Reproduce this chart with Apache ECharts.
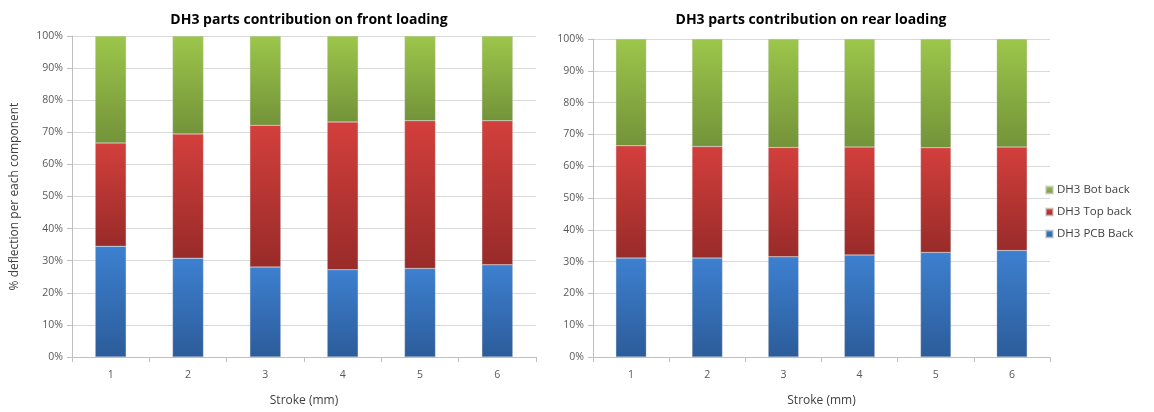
<!DOCTYPE html>
<html>
<head>
<meta charset="utf-8">
<script src="https://cdn.jsdelivr.net/npm/echarts@6/dist/echarts.min.js"></script>
<style>
  html, body { margin: 0; padding: 0; background: #ffffff; }
  #chart { width: 1154px; height: 412px; }
</style>
</head>
<body>
<div id="chart"></div>
<script>
// Stroke positions (mm)
const strokes = ['1', '2', '3', '4', '5', '6'];

// Front loading: share of deflection per component (%)
const frontPcb = [34.5, 30.8, 28.0, 27.2, 27.6, 28.7];
const frontTop = [32.2, 38.7, 44.2, 46.0, 46.0, 44.9];
const frontBot = [33.3, 30.5, 27.8, 26.8, 26.4, 26.4];

// Rear loading: share of deflection per component (%)
const rearPcb = [31.1, 31.1, 31.5, 32.1, 32.9, 33.5];
const rearTop = [35.3, 35.1, 34.4, 33.9, 32.9, 32.5];
const rearBot = [33.6, 33.8, 34.1, 34.0, 34.2, 34.0];

const seriesNames = ['DH3 PCB Back', 'DH3 Top back', 'DH3 Bot back'];
const chartTitles = ['DH3 parts contribution on front loading', 'DH3 parts contribution on rear loading'];
const xAxisName = 'Stroke (mm)';
const yAxisName = '% deflection per each component';

const FONT = '"Open Sans", "Noto Sans", sans-serif';

function grad(top, bottom) {
  return new echarts.graphic.LinearGradient(0, 0, 0, 1, [
    { offset: 0, color: top },
    { offset: 1, color: bottom }
  ]);
}
const fills = [
  grad('#3d80d0', '#2c5c9a'),
  grad('#d33f3c', '#982b29'),
  grad('#9cc64b', '#739339')
];
const legendColors = ['#3d7ccb', '#c0393a', '#93bb45'];

function makeSeries(idx, data) {
  return data.map((vals, i) => ({
    name: seriesNames[i],
    type: 'bar',
    stack: 'total' + idx,
    xAxisIndex: idx,
    yAxisIndex: idx,
    barWidth: '40%',
    color: legendColors[i],
    itemStyle: { color: fills[i], borderColor: 'rgba(200,200,200,0.6)', borderWidth: 0.5 },
    emphasis: { disabled: true },
    data: vals
  }));
}

const axisLabelStyle = { color: '#595959', fontSize: 10.5, fontFamily: FONT };
const gridLine = { show: true, lineStyle: { color: '#d9d9d9', width: 1 } };
const axisLn = { show: true, lineStyle: { color: '#bfbfbf', width: 1 } };

function xAxis(idx) {
  return {
    type: 'category',
    gridIndex: idx,
    data: strokes,
    name: xAxisName,
    nameLocation: 'middle',
    nameGap: 38,
    nameTextStyle: { color: '#404040', fontSize: 12, fontFamily: FONT },
    axisLine: axisLn,
    axisTick: { show: true, length: 5, lineStyle: { color: '#bfbfbf' } },
    axisLabel: Object.assign({ margin: 13 }, axisLabelStyle),
    splitLine: { show: false }
  };
}
function yAxis(idx, withName) {
  const ax = {
    type: 'value',
    gridIndex: idx,
    min: 0,
    max: 100,
    interval: 10,
    axisLine: axisLn,
    axisTick: { show: true, length: 5, lineStyle: { color: '#bfbfbf' } },
    axisLabel: Object.assign({ margin: 9, formatter: '{value}%' }, axisLabelStyle),
    splitLine: gridLine
  };
  if (withName) {
    Object.assign(ax, {
      name: yAxisName,
      nameLocation: 'middle',
      nameGap: 51,
      nameTextStyle: { color: '#404040', fontSize: 12, fontFamily: FONT }
    });
  }
  return ax;
}

const chart = echarts.init(document.getElementById('chart'), null, { renderer: 'canvas' });
chart.setOption({
  animation: false,
  backgroundColor: '#ffffff',
  title: [
    { text: chartTitles[0], left: 304, top: 8, textAlign: 'center',
      textStyle: { fontSize: 14, fontWeight: 'bold', color: '#000000', fontFamily: FONT } },
    { text: chartTitles[1], left: 806, top: 8, textAlign: 'center',
      textStyle: { fontSize: 14, fontWeight: 'bold', color: '#000000', fontFamily: FONT } }
  ],
  legend: {
    orient: 'vertical',
    left: 1040,
    top: 178,
    itemWidth: 7,
    itemHeight: 7,
    itemGap: 8,
    icon: 'rect',
    data: ['DH3 Bot back', 'DH3 Top back', 'DH3 PCB Back'],
    textStyle: { color: '#404040', fontSize: 11.5, fontFamily: FONT, padding: [0, 0, 0, -1], lineHeight: 14 }
  },
  grid: [
    { left: 72, right: 1154 - 536, top: 36, bottom: 412 - 364 },
    { left: 593, right: 1154 - 1050, top: 39, bottom: 412 - 361.7 }
  ],
  xAxis: [xAxis(0), xAxis(1)],
  yAxis: [yAxis(0, true), yAxis(1, false)],
  series: [
    ...makeSeries(0, [frontPcb, frontTop, frontBot]),
    ...makeSeries(1, [rearPcb, rearTop, rearBot])
  ]
});
</script>
</body>
</html>
